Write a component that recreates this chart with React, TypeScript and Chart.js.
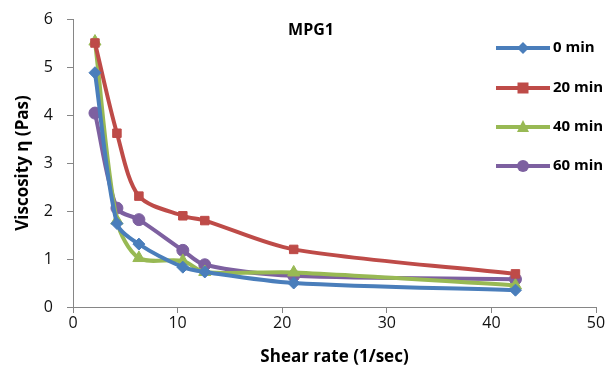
import React, { useEffect, useRef } from "react";
import { Chart, registerables } from "chart.js";
Chart.register(...registerables);

const shearRate = [2.1, 4.2, 6.3, 10.5, 12.6, 21.1, 42.3];
const min0 = [4.88, 1.74, 1.31, 0.83, 0.73, 0.5, 0.35];
const min20 = [5.5, 3.62, 2.31, 1.9, 1.8, 1.2, 0.69];
const min40 = [5.53, 1.8, 1.02, 0.96, 0.73, 0.72, 0.45];
const min60 = [4.04, 2.06, 1.82, 1.18, 0.88, 0.65, 0.58];
const seriesNames = ["0 min", "20 min", "40 min", "60 min"];
const colors = ["#4a7ebb", "#be4b48", "#98b954", "#7d60a0"];
const styles = ["rectRot", "rect", "triangle", "circle"];
const radii = [6, 6, 7, 6];

const FONT = "'Open Sans', 'Liberation Sans', sans-serif";
const AXIS = "#868686";

export default function App() {
  const ref = useRef<HTMLCanvasElement>(null);
  useEffect(() => {
    const all = [min0, min20, min40, min60];
    const datasets = all.map((vals, i) => ({
      label: seriesNames[i],
      data: vals.map((v, j) => ({ x: shearRate[j], y: v })),
      borderColor: colors[i],
      backgroundColor: colors[i],
      borderWidth: 4,
      pointStyle: styles[i] as any,
      pointRadius: radii[i],
      pointBorderWidth: 1,
      tension: 0.3,
      showLine: true,
    }));
    const overlay = {
      id: "overlay",
      afterDraw(chart: any) {
        const ctx = chart.ctx;
        ctx.save();
        // y tick marks (6px, outside)
        const ys = chart.scales.y;
        ctx.strokeStyle = AXIS;
        ctx.lineWidth = 1;
        ys.ticks.forEach((t: any) => {
          const py = Math.round(ys.getPixelForValue(t.value)) + 0.5;
          ctx.beginPath();
          ctx.moveTo(chart.chartArea.left - 6, py);
          ctx.lineTo(chart.chartArea.left, py);
          ctx.stroke();
        });
        ctx.fillStyle = "#000";
        ctx.font = `bold 16px ${FONT}`;
        ctx.textAlign = "center";
        ctx.textBaseline = "middle";
        ctx.fillText("MPG1", 311, 30);
        const ly = [48, 88, 127, 166];
        ly.forEach((y, i) => {
          ctx.strokeStyle = colors[i];
          ctx.lineWidth = 4;
          ctx.beginPath();
          ctx.moveTo(496, y);
          ctx.lineTo(550, y);
          ctx.stroke();
          ctx.fillStyle = colors[i];
          ctx.beginPath();
          const cx = 523;
          if (styles[i] === "rectRot") {
            ctx.moveTo(cx, y - 6); ctx.lineTo(cx + 6, y); ctx.lineTo(cx, y + 6); ctx.lineTo(cx - 6, y); ctx.closePath();
          } else if (styles[i] === "rect") {
            ctx.rect(cx - 5.5, y - 5.5, 11, 11);
          } else if (styles[i] === "triangle") {
            ctx.moveTo(cx, y - 7); ctx.lineTo(cx + 6, y + 5); ctx.lineTo(cx - 6, y + 5); ctx.closePath();
          } else {
            ctx.arc(cx, y, 6, 0, Math.PI * 2);
          }
          ctx.fill();
          ctx.fillStyle = "#000";
          ctx.textAlign = "left";
          ctx.font = `bold 15px ${FONT}`;
          ctx.fillText(seriesNames[i], 553, y);
        });
        ctx.restore();
      },
    };
    const chart = new Chart(ref.current!, {
      type: "scatter",
      data: { datasets },
      plugins: [overlay],
      options: {
        animation: false,
        responsive: false,
        layout: { padding: { top: 19, right: 11, left: 13, bottom: 0 } },
        plugins: { legend: { display: false }, tooltip: { enabled: false } },
        scales: {
          x: {
            type: "linear",
            min: 0,
            max: 50,
            ticks: { stepSize: 10, color: "#111", font: { size: 16, family: FONT }, padding: 1 },
            grid: { drawOnChartArea: false, tickLength: 6, color: AXIS },
            border: { color: AXIS, width: 1 },
            title: { display: true, text: "Shear rate (1/sec)", color: "#000", font: { size: 17, weight: "bold", family: FONT }, padding: { top: 0, bottom: 6 } },
            afterFit(s: any) { s.height = 66; },
          },
          y: {
            min: 0,
            max: 6,
            ticks: { stepSize: 1, color: "#111", font: { size: 16, family: FONT }, padding: 1 },
            grid: { drawOnChartArea: false, tickLength: 19, tickColor: "rgba(0,0,0,0)", color: AXIS },
            border: { color: AXIS, width: 1 },
            title: { display: true, text: "Viscosity η (Pas)", color: "#000", font: { size: 17, weight: "bold", family: FONT }, padding: 0 },
            afterFit(s: any) { s.width = 60; },
          },
        },
      },
    });
    return () => chart.destroy();
  }, []);
  return (
    <div style={{ position: "fixed", left: 0, top: 0, width: 607, height: 373, background: "#fff" }}>
      <canvas ref={ref} width={607} height={373} />
    </div>
  );
}
